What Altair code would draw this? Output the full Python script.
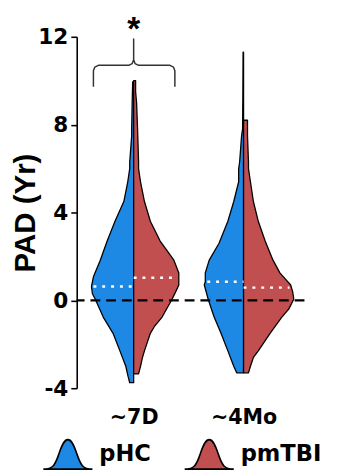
import altair as alt
import pandas as pd
import numpy as np

GROUPS = ["~7D", "~4Mo"]
SERIES = ["pHC", "pmTBI"]
COLORS = ["#1E88E5", "#C14F50"]

# Split-violin profiles: PAD value (yr) and relative density (half-width)
g1_hc_y = [-3.75, -3.4, -3.0, -2.3, -1.5, -0.76, 0.04, 0.3, 0.63, 1.07, 1.83, 2.7, 3.6, 4.5, 5.4, 6.0, 6.3, 7.5, 7.8, 9.0, 9.95]
g1_hc_d = [4, 6, 8, 14, 21, 31, 39, 42, 43, 41, 34, 27, 19, 10, 6, 4, 4, 2, 2, 1.5, 1]

g1_tbi_y = [-3.35, -3.0, -2.6, -2.3, -1.5, -1.2, -0.76, 0.04, 0.5, 0.7, 1.03, 1.25, 1.83, 2.7, 3.6, 4.5, 5.4, 6.0, 6.3, 7.8, 9.0, 9.5, 10.0]
g1_tbi_d = [5, 7, 9, 11, 17, 21, 29, 39, 44, 46, 46, 46, 41, 27, 17, 11, 7, 5, 5, 4, 3, 2, 2]

g2_hc_y = [-3.3, -3.0, -2.3, -1.5, -0.76, 0.04, 0.7, 0.85, 1.25, 1.83, 2.6, 3.6, 4.5, 5.4, 6.0, 6.3, 7.5, 7.8, 9.5, 11.3]
g2_hc_d = [7, 10, 16, 23, 30, 36, 40, 39, 39, 35, 25, 16, 10, 5, 5, 4, 2, 1, 0.7, 0.5]

g2_tbi_y = [-3.3, -3.0, -2.6, -2.3, -1.5, -0.76, -0.4, 0.04, 0.13, 0.4, 0.7, 0.85, 1.25, 1.83, 2.7, 3.6, 4.5, 5.4, 6.0, 6.3, 7.5, 8.2]
g2_tbi_d = [5, 7, 10, 15, 27, 39, 46, 51, 51, 50, 48, 45, 37, 30, 22, 15, 10, 7, 5, 5, 4, 4]

MEDIAN_HC = [0.63, 0.85]
MEDIAN_TBI = [1.03, 0.58]

SIG_GROUP = "~7D"
SIG_LABEL = "*"

DENS_TO_X = 1 / 112.0  # violin width relative to group spacing

profiles = {
    ("~7D", "pHC"): (g1_hc_y, g1_hc_d),
    ("~7D", "pmTBI"): (g1_tbi_y, g1_tbi_d),
    ("~4Mo", "pHC"): (g2_hc_y, g2_hc_d),
    ("~4Mo", "pmTBI"): (g2_tbi_y, g2_tbi_d),
}
medians = {
    ("~7D", "pHC"): MEDIAN_HC[0], ("~4Mo", "pHC"): MEDIAN_HC[1],
    ("~7D", "pmTBI"): MEDIAN_TBI[0], ("~4Mo", "pmTBI"): MEDIAN_TBI[1],
}

rows, med_rows = [], []
for (g, s), (ys, ds) in profiles.items():
    pos = GROUPS.index(g) + 1
    side = -1 if s == "pHC" else 1
    for y, d in zip(ys, ds):
        edge = pos + side * d * DENS_TO_X
        rows.append({"group": g, "series": s, "key": g + s, "pad": y,
                     "x": min(pos, edge), "x2": max(pos, edge)})
    m = medians[(g, s)]
    dm = float(np.interp(m, ys, ds))
    edge = pos + side * (dm - 2) * DENS_TO_X
    med_rows.append({"key": g + s, "pad": m, "x": min(pos, edge), "x2": max(pos, edge)})

df = pd.DataFrame(rows)
med_df = pd.DataFrame(med_rows)

xscale = alt.Scale(domain=[0.482, 2.554], nice=False, zero=False)
yscale = alt.Scale(domain=[-4, 12], nice=False, zero=False)

label_expr = " : ".join(
    f"datum.value == {i + 1} ? '{g}'" for i, g in enumerate(GROUPS[:-1])
) + f" : '{GROUPS[-1]}'"

sym_path = ("M-1,0.6 C-0.6,0.6 -0.52,0.42 -0.38,0.02 C-0.25,-0.38 -0.15,-0.6 0,-0.6 "
            "C0.15,-0.6 0.25,-0.38 0.38,0.02 C0.52,0.42 0.6,0.6 1,0.6 Z")

violins = alt.Chart(df).mark_area(
    orient="horizontal", stroke="black", strokeWidth=1.3, strokeJoin="round", opacity=1
).encode(
    y=alt.Y("pad:Q", scale=yscale, axis=alt.Axis(
        values=[-4, 0, 4, 8, 12], title="PAD (Yr)", grid=False,
        labelExpr="datum.value < 0 ? '-' + abs(datum.value) : '' + datum.value",
        domainColor="black", domainWidth=1.6, tickColor="black", tickWidth=1.6, tickSize=6,
        labelFont="DejaVu Sans", labelFontWeight="bold", labelFontSize=22, labelColor="black",
        labelPadding=3, labelFlush=False, labelOverlap=False,
        titleFont="Liberation Sans", titleFontSize=30, titleFontWeight="bold", titleColor="black",
        titleAngle=270, titleX=-43, titleY=179, titleAlign="center", titleBaseline="alphabetic")),
    x=alt.X("x:Q", scale=xscale, stack=None, axis=alt.Axis(
        values=[1, 2], labelExpr=label_expr, domain=False, ticks=False, grid=False, title=None,
        labelFont="DejaVu Sans", labelFontWeight="bold", labelFontSize=21, labelColor="black",
        labelPadding=19, labelFlush=False)),
    x2="x2:Q",
    color=alt.Color("series:N", scale=alt.Scale(domain=SERIES, range=COLORS), legend=alt.Legend(
        title=None, orient="none", legendX=-35, legendY=399, direction="horizontal",
        symbolType=sym_path, symbolSize=2500, symbolStrokeColor="black", symbolStrokeWidth=1.6,
        symbolOpacity=1, labelFont="DejaVu Sans", labelFontWeight="bold", labelFontSize=23,
        labelColor="black", labelOffset=6, columnPadding=30, padding=0)),
    detail="key:N",
)

med = alt.Chart(med_df).mark_rule(color="white", strokeDash=[3, 6], strokeWidth=2.5).encode(
    y="pad:Q", x="x:Q", x2="x2:Q")

zero = alt.Chart(pd.DataFrame({"pad": [0]})).mark_rule(
    color="black", strokeDash=[10, 6], strokeWidth=2.4).encode(y="pad:Q")

# significance brace above the first group
c = GROUPS.index(SIG_GROUP) + 1
brace_dx = [-0.366, -0.366, -0.353, -0.321, -0.045, -0.013, 0, 0, 0, 0.013, 0.045, 0.33, 0.362, 0.375, 0.375]
brace_y = [9.73, 10.45, 10.62, 10.7, 10.7, 10.78, 10.95, 11.9, 10.95, 10.78, 10.7, 10.7, 10.62, 10.45, 9.73]
brace_df = pd.DataFrame({"x": [c + d for d in brace_dx], "pad": brace_y, "o": range(len(brace_dx))})
brace = alt.Chart(brace_df).mark_line(color="#333333", strokeWidth=1.5, strokeJoin="round").encode(
    x="x:Q", y="pad:Q", order="o:Q")

star = alt.Chart(pd.DataFrame({"x": [c], "pad": [12.4], "t": [SIG_LABEL]})).mark_text(
    font="Liberation Sans", fontSize=34, fontWeight="bold", color="black", baseline="middle", dy=2
).encode(x="x:Q", y="pad:Q", text="t:N")

chart = alt.layer(violins, med, zero, brace, star).properties(
    width=232, height=358,
    padding={"left": 70, "top": 25, "right": 25, "bottom": 80},
    autosize=alt.AutoSizeParams(type="none"),
    background="white",
).configure_view(stroke=None)

chart.save("out.html", embed_options={"renderer": "svg", "actions": False})
